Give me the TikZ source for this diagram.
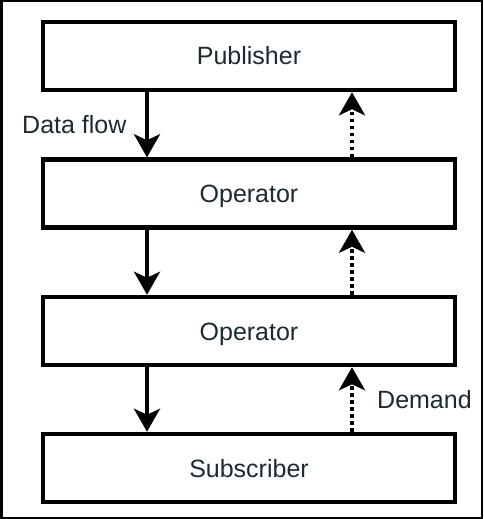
\documentclass[tikz,border=0pt]{standalone}
\usepackage{fontspec}
\setmainfont{Liberation Sans}
\usetikzlibrary{arrows.meta}
\definecolor{txt}{RGB}{28,42,50}
\begin{document}
\begin{tikzpicture}[x=1pt,y=-1pt,
  box/.style={draw=black,line width=4.5pt,minimum width=412pt,minimum height=68pt,inner sep=0pt,fill=white,
    text height=18pt,text depth=0pt,font=\fontsize{25}{30}\selectfont,text=txt},
  flow/.style={line width=4pt,-{Stealth[length=23pt,width=26pt,inset=6pt]}},
  demand/.style={line width=4pt,dash pattern=on 3.5pt off 3.5pt,-{Stealth[length=23pt,width=26pt,inset=6pt]}},
  lbl/.style={font=\fontsize{25}{30}\selectfont,text=txt,inner sep=0pt}]
\useasboundingbox (0,0) rectangle (483,519);
\draw[line width=2.5pt] (1.25,1.25) rectangle (481.75,517.75);
\node[box] (pub) at (249,56) {Publisher};
\node[box] (op1) at (249,193.5) {Operator};
\node[box] (op2) at (249,331) {Operator};
\node[box] (sub) at (249,468) {Subscriber};
\foreach \a/\b in {pub/op1,op1/op2,op2/sub}{
  \draw[flow] (\a.south -| 147,0) -- (\b.north -| 147,0);
  \draw[demand] (\b.north -| 352,0) -- (\a.south -| 352,0);
}
\node[lbl,anchor=base west] (df) at (22,133) {Data flow};
\node[lbl,anchor=base west] (dm) at (377,408) {Demand};
\end{tikzpicture}
\end{document}
